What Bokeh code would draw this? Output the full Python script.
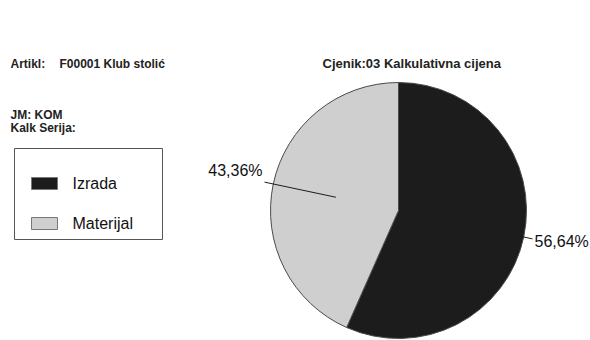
import numpy as np
from bokeh.plotting import figure
from bokeh.models import ColumnDataSource
from bokeh.core.properties import value
from bokeh.embed import file_html
from bokeh.resources import INLINE

# ---- data ----
categories = ["Izrada", "Materijal"]
shares = [56.64, 43.36]
colors = ["#1c1c1c", "#cfcfcf"]
header_left = ["Artikl:", "F00001 Klub stolić", "JM: KOM", "Kalk Serija:"]
header_right = "Cjenik:03 Kalkulativna cijena"

W, H = 590, 340
FONT = value("Liberation Sans")

def X(rx):
    return rx

def Y(ry):
    return H - ry

p = figure(width=W, height=H, x_range=(0, W), y_range=(0, H),
           output_backend="svg", toolbar_location=None,
           x_axis_type=None, y_axis_type=None, min_border=0)
p.grid.visible = False
p.outline_line_color = None
p.background_fill_color = "white"
p.border_fill_color = "white"

# ---- pie ----
vals = np.array(shares, dtype=float)
frac = vals / vals.sum()
cum = np.concatenate([[0.0], np.cumsum(frac)])
start = np.pi / 2 - cum[:-1] * 2 * np.pi
end = np.pi / 2 - cum[1:] * 2 * np.pi
cx, cy, r = X(398), Y(210), 128
src = ColumnDataSource(dict(cat=categories, start=start, end=end, color=colors))
p.wedge(x=cx, y=cy, radius=r, start_angle="start", end_angle="end",
        direction="clock", fill_color="color", line_color="#4a4a4a",
        line_width=1, source=src)

# ---- leader lines & labels ----
mid = (start + end) / 2
labels = [f"{v:.2f}%".replace(".", ",") for v in vals]
for i, a in enumerate(mid):
    x0, y0 = cx + 0.5 * r * np.cos(a), cy + 0.5 * r * np.sin(a)
    x1, y1 = cx + 1.07 * r * np.cos(a), cy + 1.07 * r * np.sin(a)
    p.line([x0, x1], [y0, y1], line_color="#1c1c1c", line_width=1)
    if np.cos(a) >= 0:
        p.text(x=[x1 + 2], y=[y1 - 3], text=[labels[i]], text_font=FONT,
               text_font_size="16px", text_color="#111111",
               text_align="left", text_baseline="middle")
    else:
        p.text(x=[x1 - 2], y=[y1 + 3], text=[labels[i]], text_font=FONT,
               text_font_size="16px", text_color="#111111",
               text_align="right", text_baseline="bottom")

# ---- legend ----
p.quad(left=X(14), right=X(162), top=Y(148), bottom=Y(239),
       fill_color="white", line_color="#555555", line_width=1)
leg_y = [Y(183), Y(223)]
p.rect(x=[X(44)] * 2, y=leg_y, width=26, height=12, fill_color=colors,
       line_color="#777777", line_width=1)
p.text(x=[X(72)] * 2, y=leg_y, text=categories, text_font=FONT,
       text_font_size="16px", text_color="#111111", text_baseline="middle")

# ---- header texts ----
hstyle = dict(text_font=FONT, text_font_style="bold",
              text_color="#222222", text_baseline="middle")
p.text(x=[X(10), X(59), X(10), X(10)], y=[Y(63), Y(63), Y(114), Y(127)],
       text=header_left, text_font_size="12px", **hstyle)
p.text(x=[X(322)], y=[Y(63)], text=[header_right], text_font_size="13px",
       **hstyle)

open("out.html", "w").write(file_html(p, INLINE))
